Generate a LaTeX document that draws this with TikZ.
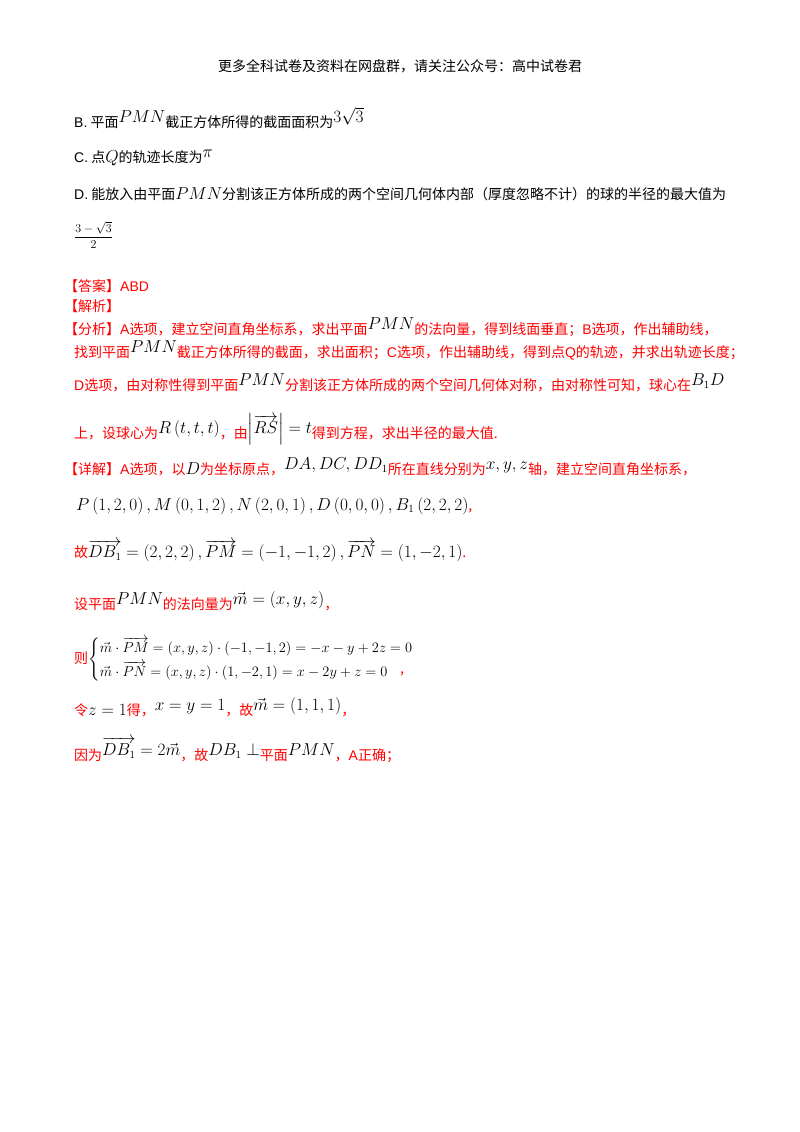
\documentclass[tikz,border=0pt]{standalone}
\usepackage{amsmath}
\usepackage{fontspec}
\setmainfont{Noto Sans CJK SC}
\newfontfamily\lat{Liberation Sans}
\definecolor{rd}{HTML}{FF0000}
\newcommand{\mf}{\fontsize{16}{18}\selectfont}
\newcommand{\up}[1]{\raisebox{5pt}{\textcolor{black}{\mf$#1$}}}
\newcommand{\bk}[1]{\textcolor{black}{\mf$#1$}}
\begin{document}
\begin{tikzpicture}[x=1pt,y=-1pt,
  t/.style={anchor=west,inner sep=0pt,font=\fontsize{14}{17}\selectfont},
  r/.style={t,text=rd}]
\useasboundingbox[fill=white] (0,0) rectangle (800,1132);
\node[t,anchor=center] (h) at (400,66) {更多全科试卷及资料在网盘群，请关注公众号：高中试卷君};
\node[t] (b) at (74,118) {{\lat B.} 平面\up{PMN}截正方体所得的截面面积为\up{3\sqrt3}};
\node[t] (c) at (74,158) {{\lat C.} 点\bk{Q}的轨迹长度为\up{\pi}};
\node[t] (d) at (74,194) {{\lat D.} 能放入由平面\bk{PMN}分割该正方体所成的两个空间几何体内部（厚度忽略不计）的球的半径的最大值为};
\node[t] (f) at (74,235) {\fontsize{13}{15}\selectfont$\dfrac{3-\sqrt3}{2}$};
\node[r] (ans) at (64,286) {【答案】{\lat ABD}};
\node[r] (jx) at (64,306) {【解析】};
\node[r] (l1) at (64,327) {【分析】{\lat A}选项，建立空间直角坐标系，求出平面\up{PMN}的法向量，得到线面垂直；{\lat B}选项，作出辅助线，};
\node[r] (l2) at (74,350) {找到平面\up{PMN}截正方体所得的截面，求出面积；{\lat C}选项，作出辅助线，得到点{\lat Q}的轨迹，并求出轨迹长度；};
\node[r] (l3) at (74,383) {{\lat D}选项，由对称性得到平面\up{PMN}分割该正方体所成的两个空间几何体对称，由对称性可知，球心在\up{B_1D}};
\node[r] (l4) at (74,429) {上，设球心为\up{R\left(t,t,t\right)}，由\up{\left|\overrightarrow{RS}\right|=t}得到方程，求出半径的最大值.};
\node[r] (l5) at (64,467) {【详解】{\lat A}选项，以\bk{D}为坐标原点，\up{DA,DC,DD_1}所在直线分别为\up{x,y,z}轴，建立空间直角坐标系，};
\node[t] (l6) at (76,506) {\mf$P\left(1,2,0\right),M\left(0,1,2\right),N\left(2,0,1\right),D\left(0,0,0\right),B_1\left(2,2,2\right)$\textcolor{rd}{\fontsize{14}{17}\selectfont,}};
\node[r] (l7) at (74,551) {故\bk{\overrightarrow{DB_1}=\left(2,2,2\right),\overrightarrow{PM}=\left(-1,-1,2\right),\overrightarrow{PN}=\left(1,-2,1\right)}.};
\node[r] (l8) at (74,601) {设平面\up{PMN}的法向量为\up{\vec m=\left(x,y,z\right)}，};
\node[r] (l9) at (74,660) {则\textcolor{black}{\fontsize{15}{17}\selectfont$\begin{cases}\vec m\cdot\overrightarrow{PM}=\left(x,y,z\right)\cdot\left(-1,-1,2\right)=-x-y+2z=0\\[3pt] \vec m\cdot\overrightarrow{PN}=\left(x,y,z\right)\cdot\left(1,-2,1\right)=x-2y+z=0\end{cases}$}};
\node[r] (c9) at (400,674) {,};
\node[r] (l10) at (74,707) {令\bk{z=1}得，\up{x=y=1}，故\up{\vec m=\left(1,1,1\right)}，};
\node[r] (l11) at (74,750) {因为\up{\overrightarrow{DB_1}=2\vec m}，故\up{DB_1\perp}平面\up{PMN}，{\lat A}正确；};
\end{tikzpicture}
\end{document}
